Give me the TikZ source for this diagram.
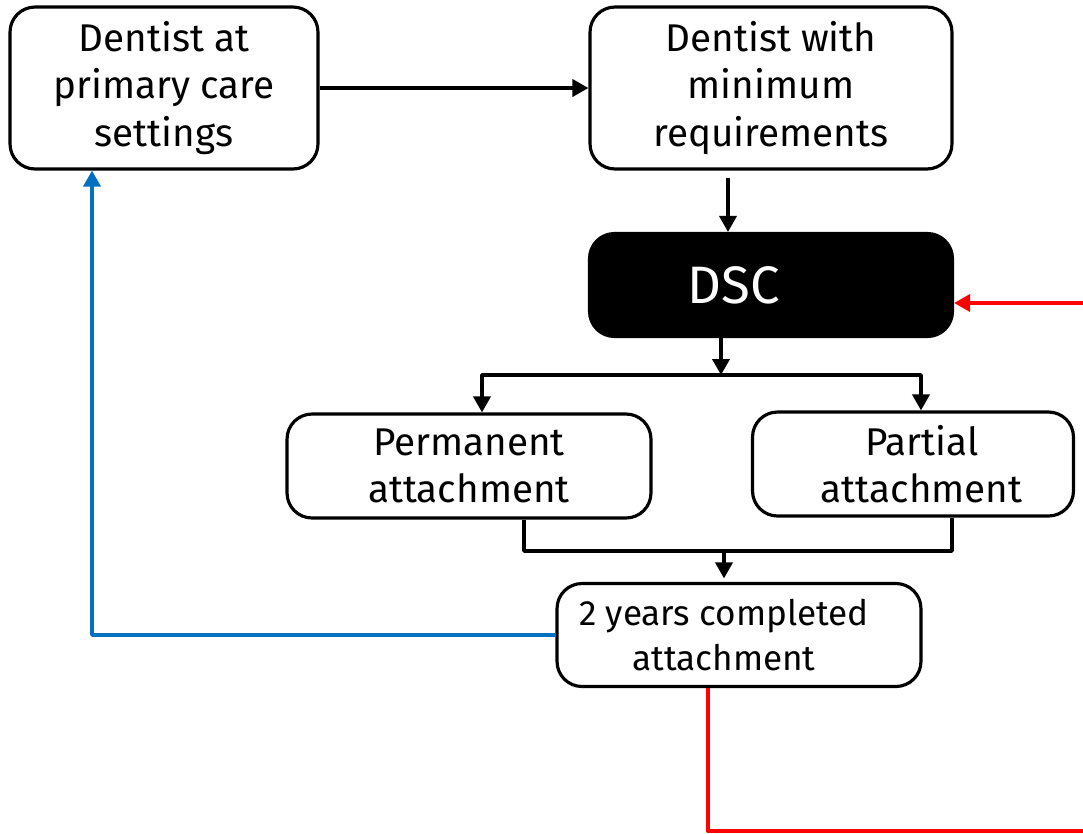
\documentclass[tikz,border=0pt]{standalone}
\usepackage{fontspec}
\setmainfont{Fira Sans}
\usetikzlibrary{arrows.meta}
\definecolor{linkblue}{RGB}{0,112,192}
\begin{document}
\begin{tikzpicture}[x=0.02cm, y=-0.02cm, line join=round,
	box/.style={draw, line width=1.8pt, rounded corners=0.5cm, align=center, inner sep=0pt,
		font=\fontsize{22}{27}\selectfont},
	link/.style={line width=2.1pt},
	arr/.style={link, -{Triangle[length=0.32cm,width=0.34cm]}}
	]
	\useasboundingbox (0,0) rectangle (1083,833);
	\clip (0,0) rectangle (1083,833);
	
	% Các hộp
	\node[box, minimum width=6.16cm, minimum height=3.24cm] (primary) at (164,88) {Dentist at\\primary care\\settings};
	\node[box, minimum width=7.24cm, minimum height=3.24cm] (minreq) at (771,88) {Dentist with\\minimum\\requirements};
	\node[box, fill=black, text=white, minimum width=7.26cm, minimum height=2.06cm,
		font=\fontsize{30}{34}\selectfont] (dsc) at (771,285) {DSC\hspace*{1.5cm}};
	\node[box, minimum width=7.28cm, minimum height=2.08cm] (perm) at (469,466) {Permanent\\attachment};
	\node[box, minimum width=6.42cm, minimum height=2.08cm] (partial) at (913,464) {\hspace*{0.35cm}Partial\\\hspace*{0.35cm}attachment};
	\node[box, minimum width=7.28cm, minimum height=2.06cm, font=\fontsize{20}{26}\selectfont] (years) at (739,635) {2 years completed\hspace*{0.6cm}\\attachment\hspace*{0.6cm}};
	
	\coordinate (split) at (721,375);
	\coordinate (join) at (724,551);
	
	% Mũi tên đen
	\draw[arr] (primary.east) -- (minreq.west);
	\draw[arr] ([xshift=-0.86cm, yshift=-0.14cm]minreq.south) -- ([xshift=-0.86cm]dsc.north);
	\draw[arr] ([xshift=-1cm]dsc.south) -- (split);
	\draw[arr] (split) -| ([xshift=0.26cm]perm.north);
	\draw[arr] (split) -| ([xshift=0.16cm]partial.north);
	\draw[link] ([xshift=1.1cm]perm.south) |- (join);
	\draw[link] ([xshift=0.78cm]partial.south) |- (join);
	\draw[arr, shorten >=2pt] (join) -- (years.north -| join);
	
	% Vòng lặp
	\draw[arr, linkblue] (years.west) -| ([xshift=-1.44cm]primary.south);
	\draw[arr, red] ([xshift=-0.62cm]years.south) -- ++(0,143) -- ++(400,0) |- ([yshift=-0.36cm]dsc.east);
\end{tikzpicture}
\end{document}
